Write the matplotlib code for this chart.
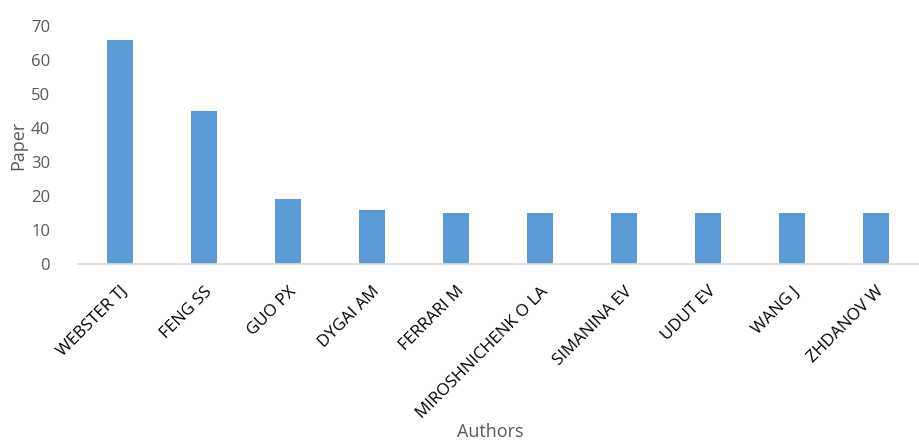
import matplotlib
matplotlib.use("Agg")
import matplotlib.pyplot as plt

authors = ["WEBSTER TJ", "FENG SS", "GUO PX", "DYGAI AM", "FERRARI M",
           "MIROSHNICHENK O LA", "SIMANINA EV", "UDUT EV", "WANG J", "ZHDANOV W"]
papers = [66, 45, 19, 16, 15, 15, 15, 15, 15, 15]
yticks = [0, 10, 20, 30, 40, 50, 60, 70]

plt.rcParams['font.family'] = ['Open Sans', 'DejaVu Sans']

fig = plt.figure(figsize=(9.19, 4.44), dpi=100)
ax = fig.add_axes([0.0849, 0.4054, 0.9140, 0.5360])

x = list(range(len(authors)))
ax.bar(x, papers, width=0.32, color="#5b9bd5", zorder=2)
ax.set_xlim(-0.5, len(authors) - 0.5)
ax.set_ylim(0, 70)
ax.set_yticks(yticks)
ax.set_yticklabels([str(v) for v in yticks], fontsize=12, color="#595959")
ax.set_xticks(x)
ax.set_xticklabels(authors, rotation=45, ha="right", rotation_mode="anchor",
                   fontsize=12.2, color="#000000")
ax.tick_params(axis="both", length=0)
ax.tick_params(axis="y", pad=20)
ax.tick_params(axis="x", pad=14)
for s in ["top", "right", "left"]:
    ax.spines[s].set_visible(False)
ax.spines["bottom"].set_color("#d9d9d9")
ax.spines["bottom"].set_linewidth(1.2)

fig.text(0.0196, 0.673, "Paper", rotation=90, ha="center", va="center",
         fontsize=13, color="#595959")
fig.text(0.533, 0.026, "Authors", ha="center", va="center",
         fontsize=13, color="#595959")

fig.savefig("out.png", dpi=100)
